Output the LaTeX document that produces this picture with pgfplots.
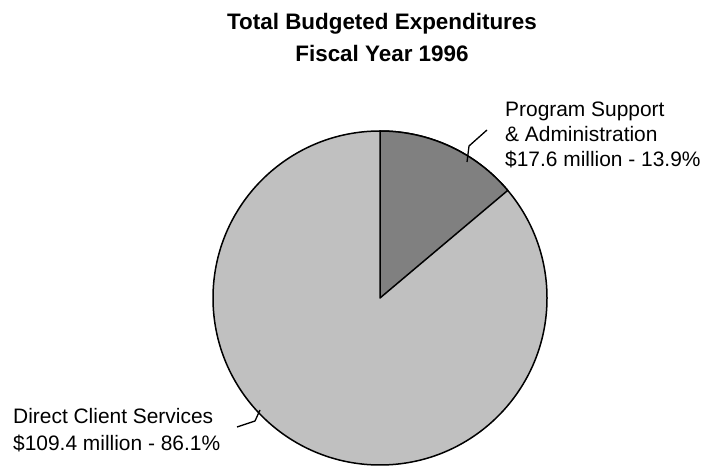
\documentclass[border=0pt]{standalone}
\usepackage{pgfplots}
\pgfplotsset{compat=1.18}
\usepackage{fontspec}
\setmainfont{Liberation Sans}
\definecolor{pielight}{HTML}{C0C0C0}
\definecolor{piedark}{HTML}{808080}
\begin{document}
\begin{tikzpicture}
\def\valA{17.6}% Program Support & Administration
\def\valB{109.4}% Direct Client Services
\pgfmathsetmacro\angEnd{90-360*\valA/(\valA+\valB)}
\begin{axis}[
  scale only axis, width=707bp, height=466bp,
  xmin=0, xmax=707, ymin=0, ymax=466,
  hide axis, clip=false,
]
% fix the picture's extent to the full canvas
\path[draw=none] (axis cs:0,0) rectangle (axis cs:707,466);
% pie: whole circle in light grey, then dark wedge
\filldraw[fill=pielight, draw=black, line width=1.5bp] (axis cs:380,168) circle[radius=167bp];
\filldraw[fill=piedark, draw=black, line width=1.5bp, line join=round]
  (axis cs:380,168) -- (axis cs:380,335) arc[start angle=90, end angle=\angEnd, radius=167bp] -- cycle;
% leader lines
\addplot[black, line width=1.3bp, no marks] coordinates {(467,304) (469,320) (487,336)};
\addplot[black, line width=1.3bp, no marks] coordinates {(237,39) (255,45) (260,56)};
% title
\node[anchor=base, inner sep=0, font=\fontsize{22.5}{27}\selectfont\bfseries] at (axis cs:382,436) {Total Budgeted Expenditures};
\node[anchor=base, inner sep=0, font=\fontsize{22.5}{27}\selectfont\bfseries] at (axis cs:382,404) {Fiscal Year 1996};
% labels
\begin{scope}[every node/.style={anchor=base west, inner sep=0, font=\fontsize{21}{25}\selectfont}]
\node at (axis cs:505,349) {Program Support};
\node at (axis cs:505,324) {\& Administration};
\node at (axis cs:505,299) {\$17.6 million - 13.9\%};
\node at (axis cs:13,42) {Direct Client Services};
\node at (axis cs:13,16) {\$109.4 million - 86.1\%};
\end{scope}
\end{axis}
\end{tikzpicture}
\end{document}
